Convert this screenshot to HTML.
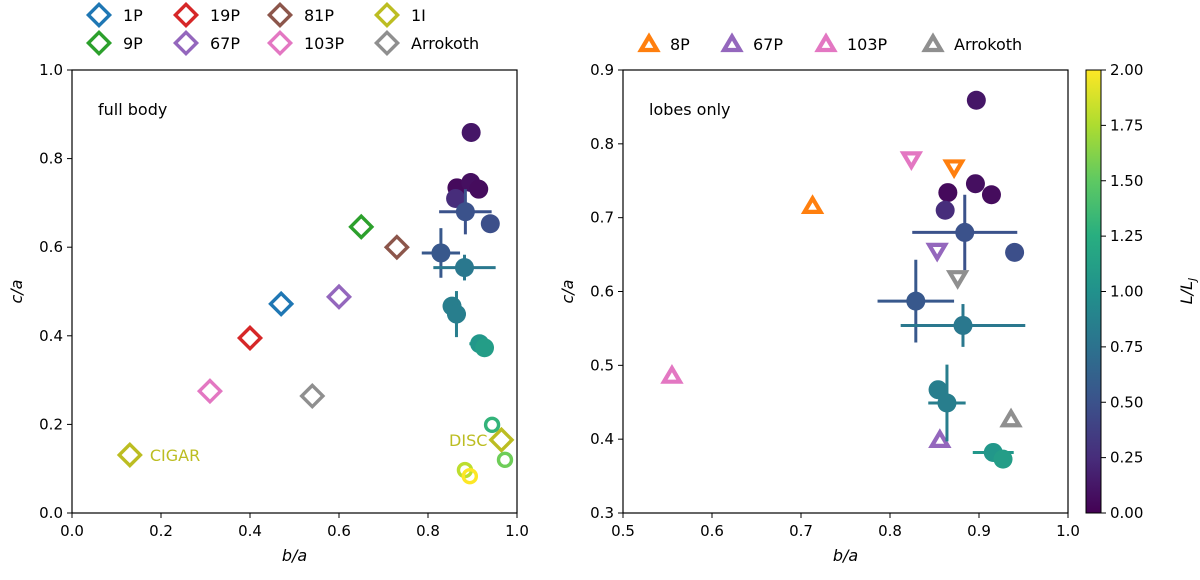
<!DOCTYPE html>
<html><head><meta charset="utf-8"><style>
body{margin:0;background:#fff;}
svg text{font-family:"DejaVu Sans","Liberation Sans",sans-serif;}
</style></head><body>
<svg id="fig" width="1200" height="575" viewBox="0 0 1200 575" xmlns="http://www.w3.org/2000/svg">
<defs>
<linearGradient id="vir" x1="0" y1="1" x2="0" y2="0">
<stop offset="0" stop-color="#440154"/><stop offset="0.125" stop-color="#472d7b"/><stop offset="0.25" stop-color="#3b528b"/><stop offset="0.375" stop-color="#2c728e"/><stop offset="0.5" stop-color="#21918c"/><stop offset="0.625" stop-color="#28ae80"/><stop offset="0.75" stop-color="#5ec962"/><stop offset="0.875" stop-color="#addc30"/><stop offset="1" stop-color="#fde725"/>
</linearGradient>
<clipPath id="clipL"><rect x="72" y="70" width="445" height="443"/></clipPath>
<clipPath id="clipR"><rect x="623" y="70" width="445" height="443"/></clipPath>
</defs>
<g id="left"></g>
<g id="right"></g>
<g id="cbar"></g>
<g id="leg"></g>
</svg>
<script>
// ---- data ----
const circBA=[0.897,0.865,0.896,0.914,0.862,0.884,0.940,0.829,0.882,0.854,0.864,0.916,0.927];
const circCA=[0.859,0.734,0.746,0.731,0.710,0.680,0.653,0.587,0.554,0.467,0.449,0.382,0.373];
const circL=[0.12,0.05,0.08,0.06,0.25,0.5,0.48,0.55,0.8,0.85,0.85,1.05,1.1];
const circXerr=[0,0,0,0,0,0.059,0,0.043,0.07,0,0.021,0.023,0];
const circYerr=[0,0,0,0,0,0.051,0,0.056,0.029,0,0.052,0,0];
const openBA=[0.944,0.973,0.883,0.894];
const openCA=[0.199,0.12,0.097,0.083];
const openL=[1.3,1.55,1.8,2.0];
const diaNames=["1P","9P","19P","67P","81P","103P","1I","1I","Arrokoth"];
const diaBA=[0.47,0.65,0.40,0.60,0.73,0.31,0.13,0.965,0.54];
const diaCA=[0.472,0.646,0.395,0.488,0.600,0.275,0.131,0.165,0.264];
const upNames=["8P","103P","67P","Arrokoth"];
const upBA=[0.713,0.555,0.856,0.936];
const upCA=[0.716,0.486,0.399,0.427];
const dnNames=["103P","8P","67P","Arrokoth"];
const dnBA=[0.824,0.872,0.853,0.876];
const dnCA=[0.779,0.768,0.655,0.618];
const leftXTicks=[0,0.2,0.4,0.6,0.8,1.0];
const leftYTicks=[0,0.2,0.4,0.6,0.8,1.0];
const rightXTicks=[0.5,0.6,0.7,0.8,0.9,1.0];
const rightYTicks=[0.3,0.4,0.5,0.6,0.7,0.8,0.9];
const cbTicks=[0,0.25,0.5,0.75,1.0,1.25,1.5,1.75,2.0];
const colors={"1P":"#1f77b4","9P":"#2ca02c","19P":"#d62728","67P":"#9467bd","81P":"#8c564b","103P":"#e377c2","1I":"#bcbd22","Arrokoth":"#8f8f8f","8P":"#ff7f0e"};

const NS="http://www.w3.org/2000/svg";
function mk(tag,attrs,parent,text){const e=document.createElementNS(NS,tag);for(const k in attrs)e.setAttribute(k,attrs[k]);if(text!==undefined)e.textContent=text;parent.appendChild(e);return e;}
const vstops=[[68,1,84],[71,45,123],[59,82,139],[44,114,142],[33,145,140],[40,174,128],[94,201,98],[173,220,48],[253,231,37]];
function vir(L){let t=Math.max(0,Math.min(1,L/2))*8;let i=Math.min(7,Math.floor(t));let f=t-i;const a=vstops[i],b=vstops[i+1];return `rgb(${a.map((v,k)=>Math.round(v+(b[k]-v)*f)).join(',')})`;}

function panel(g,x0,x1,xmin,xmax,y0,y1,ymin,ymax,xt,yt,xd,yd,label){
 const X=v=>x0+(v-xmin)/(xmax-xmin)*(x1-x0);
 const Y=v=>y0-(v-ymin)/(ymax-ymin)*(y0-y1);
 xt.forEach(v=>{const t=mk('line',{x1:X(v),x2:X(v),y1:y0,y2:y0+5,stroke:'#000','stroke-width':1},g);
  const l=mk('text',{x:X(v),y:y0+23,'text-anchor':'middle','font-size':15},g,v.toFixed(xd));});
 yt.forEach(v=>{const t=mk('line',{x1:x0-5,x2:x0,y1:Y(v),y2:Y(v),stroke:'#000','stroke-width':1},g);
  const l=mk('text',{x:x0-9,y:Y(v)+5,'text-anchor':'end','font-size':15},g,v.toFixed(yd));});
 const xl=mk('text',{x:(x0+x1)/2,y:y0+48,'text-anchor':'middle','font-size':16,'font-style':'italic'},g,'b/a');
 const yl=mk('text',{x:0,y:0,'text-anchor':'middle','font-size':16,'font-style':'italic',transform:`translate(${x0-50},${(y0+y1)/2}) rotate(-90)`},g,'c/a');
 const pl=mk('text',{x:x0+26,y:y1+45,'font-size':16},g,label);
 return {X,Y};
}
function circles(g,X,Y,clip){
 const gc=mk('g',{'clip-path':clip},g);
 circBA.forEach((b,i)=>{const c=vir(circL[i]);const cx=X(b),cy=Y(circCA[i]);
  if(circXerr[i]){const e=mk('line',{x1:X(b-circXerr[i]),x2:X(b+circXerr[i]),y1:cy,y2:cy,stroke:c,'stroke-width':3},gc);}
  if(circYerr[i]){const e=mk('line',{x1:cx,x2:cx,y1:Y(circCA[i]-circYerr[i]),y2:Y(circCA[i]+circYerr[i]),stroke:c,'stroke-width':3},gc);}
  const p=mk('circle',{cx:cx,cy:cy,r:9.5,fill:c},gc);});
 return gc;
}

// left
const gl=document.getElementById('left');
const L=panel(gl,72,517,0,1,513,70,0,1,leftXTicks,leftYTicks,1,1,'full body');
diaBA.forEach((b,i)=>{const n=diaNames[i];const cx=L.X(b),cy=L.Y(diaCA[i]);const d=mk('rect',{x:cx-7.5,y:cy-7.5,width:15,height:15,fill:'none',stroke:colors[n],'stroke-width':3.4,transform:`rotate(45 ${cx} ${cy})`},gl);});
const t1=mk('text',{x:L.X(0.13)+20,y:L.Y(0.131)+6,'font-size':16,fill:'#bcbd22'},gl,'CIGAR');
const t2=mk('text',{x:L.X(0.965)-14,y:L.Y(0.165)+6,'font-size':16,fill:'#bcbd22','text-anchor':'end'},gl,'DISC');
circles(gl,L.X,L.Y,'url(#clipL)');
openBA.forEach((b,i)=>{const p=mk('circle',{cx:L.X(b),cy:L.Y(openCA[i]),r:6.5,fill:'none',stroke:vir(openL[i]),'stroke-width':3.4},gl);});
mk('rect',{x:72,y:70,width:445,height:443,fill:'none',stroke:'#000','stroke-width':1.2},gl);

// right
const gr=document.getElementById('right');
const R=panel(gr,623,1068,0.5,1.0,513,70,0.3,0.9,rightXTicks,rightYTicks,1,1,'lobes only');
function tri(g,cx,cy,up,c,name){const s=up?1:-1;const pts=[[cx,cy-7.5*s],[cx-8,cy+6*s],[cx+8,cy+6*s]].map(p=>p.join(',')).join(' ');const t=mk('polygon',{points:pts,fill:'none',stroke:c,'stroke-width':4.2},g);}
upBA.forEach((b,i)=>tri(gr,R.X(b),R.Y(upCA[i]),true,colors[upNames[i]],'triangle-up-'+upNames[i].toLowerCase()));
dnBA.forEach((b,i)=>tri(gr,R.X(b),R.Y(dnCA[i]),false,colors[dnNames[i]],'triangle-down-'+dnNames[i].toLowerCase()));
circles(gr,R.X,R.Y,'url(#clipR)');
mk('rect',{x:623,y:70,width:445,height:443,fill:'none',stroke:'#000','stroke-width':1.2},gr);

// colorbar
const gcb=document.getElementById('cbar');
const cr=mk('rect',{x:1086,y:70,width:15,height:443,fill:'url(#vir)',stroke:'#000','stroke-width':1},gcb);
cbTicks.forEach(v=>{const y=513-v/2*443;mk('line',{x1:1101,x2:1106,y1:y,y2:y,stroke:'#000'},gcb);const l=mk('text',{x:1110,y:y+5,'font-size':15},gcb,v.toFixed(2));});
const cl=mk('text',{x:0,y:0,'text-anchor':'middle','font-size':16,'font-style':'italic',transform:'translate(1192,291) rotate(-90)'},gcb,'L/L');
mk('tspan',{'font-size':11,dy:4},cl,'J');

// legends
const lg=document.getElementById('leg');
const legL=[["1P",99,15],["19P",186,15],["81P",280,15],["1I",387,15],["9P",99,43],["67P",186,43],["103P",280,43],["Arrokoth",387,43]];
legL.forEach(([n,x,y])=>{const d=mk('rect',{x:x-7.5,y:y-7.5,width:15,height:15,fill:'none',stroke:colors[n],'stroke-width':3.4,transform:`rotate(45 ${x} ${y})`},lg);
 const t=mk('text',{x:x+24,y:y+6,'font-size':16},lg,n);});
const legR=[["8P",649],["67P",732],["103P",826],["Arrokoth",933]];
legR.forEach(([n,x])=>{tri(lg,x,44,true,colors[n],'legend-marker');const t=mk('text',{x:x+21,y:50,'font-size':16},lg,n);});
</script>
</body></html>
